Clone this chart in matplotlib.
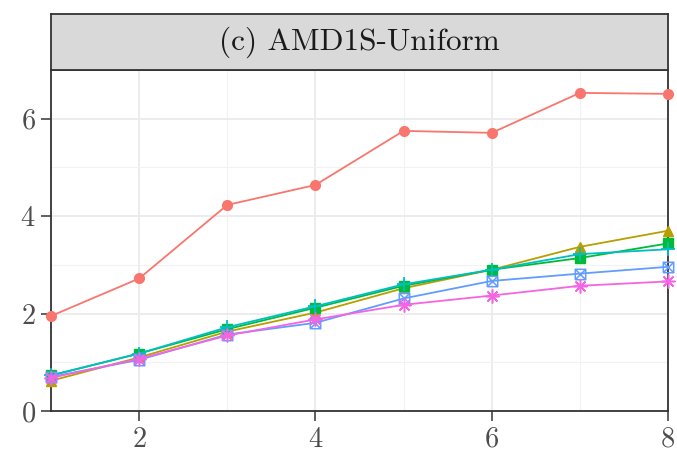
import matplotlib
matplotlib.use("Agg")
import matplotlib.pyplot as plt
from matplotlib.path import Path
from matplotlib.ticker import MultipleLocator

plt.rcParams['font.family'] = 'serif'
plt.rcParams['font.serif'] = ['cmr10', 'DejaVu Serif']
plt.rcParams['axes.formatter.use_mathtext'] = True

title = "(c) AMD1S-Uniform"
x = [1, 2, 3, 4, 5, 6, 7, 8]
s_red = [1.95, 2.72, 4.23, 4.64, 5.75, 5.71, 6.53, 6.51]
s_olive = [0.62, 1.10, 1.63, 2.02, 2.52, 2.90, 3.37, 3.70]
s_green = [0.73, 1.18, 1.68, 2.12, 2.57, 2.90, 3.14, 3.44]
s_teal = [0.73, 1.18, 1.72, 2.15, 2.60, 2.90, 3.22, 3.32]
s_blue = [0.70, 1.05, 1.57, 1.81, 2.31, 2.67, 2.82, 2.96]
s_pink = [0.68, 1.07, 1.55, 1.88, 2.18, 2.37, 2.57, 2.66]

colors = ['#F8766D', '#B79F00', '#00BA38', '#00BFC4', '#619CFF', '#F564E3']

# squared-cross marker (ggplot shape 7)
sq_verts = [(-1, -1), (1, -1), (1, 1), (-1, 1), (-1, -1),
            (-1, -1), (1, 1), (-1, 1), (1, -1)]
sq_codes = [Path.MOVETO, Path.LINETO, Path.LINETO, Path.LINETO, Path.LINETO,
            Path.MOVETO, Path.LINETO, Path.MOVETO, Path.LINETO]
sqcross = Path(sq_verts, sq_codes)

fig = plt.figure(figsize=(6.77, 4.55), dpi=100)
L, R = 51 / 677, 668 / 677
B, T = (455 - 411) / 455, (455 - 70) / 455
ST = (455 - 14) / 455
ax = fig.add_axes([L, B, R - L, T - B])
sax = fig.add_axes([L, T, R - L, ST - T])

series = [
    (s_red, 'o', dict(markersize=7)),
    (s_olive, '^', dict(markersize=7.5)),
    (s_green, 's', dict(markersize=7)),
    (s_teal, '+', dict(markersize=10, markeredgewidth=1.3)),
    (s_blue, sqcross, dict(markersize=7.5, markerfacecolor='none', markeredgewidth=1.1)),
    (s_pink, (8, 2, 0), dict(markersize=10, markeredgewidth=1.1)),
]
for (vals, m, kw), c in zip(series, colors):
    ax.plot(x, vals, color=c, marker=m, lw=1.3, clip_on=False, zorder=3,
            markeredgecolor=c, **kw)

ax.set_xlim(1, 8)
ax.set_ylim(0, 7)
ax.xaxis.set_major_locator(MultipleLocator(2))
ax.yaxis.set_major_locator(MultipleLocator(2))
ax.xaxis.set_minor_locator(MultipleLocator(1))
ax.yaxis.set_minor_locator(MultipleLocator(1))
ax.set_xticks([2, 4, 6, 8])
ax.grid(which='major', color='#EBEBEB', lw=1.3, zorder=0)
ax.grid(which='minor', color='#F2F2F2', lw=0.8, zorder=0)
ax.set_axisbelow(True)
ax.tick_params(which='major', length=7, width=1.1, color='#333333',
               labelsize=20.5, labelcolor='#4D4D4D', pad=4)
ax.tick_params(which='minor', length=0)
for sp in ax.spines.values():
    sp.set_color('#333333')
    sp.set_linewidth(1.3)

sax.set_facecolor('#D9D9D9')
sax.set_xticks([])
sax.set_yticks([])
for sp in sax.spines.values():
    sp.set_color('#333333')
    sp.set_linewidth(1.3)
sax.text(0.5, 0.5, title, ha='center', va='center', fontsize=22.5,
         color='#1A1A1A', transform=sax.transAxes)

fig.savefig("out.png", dpi=100)
